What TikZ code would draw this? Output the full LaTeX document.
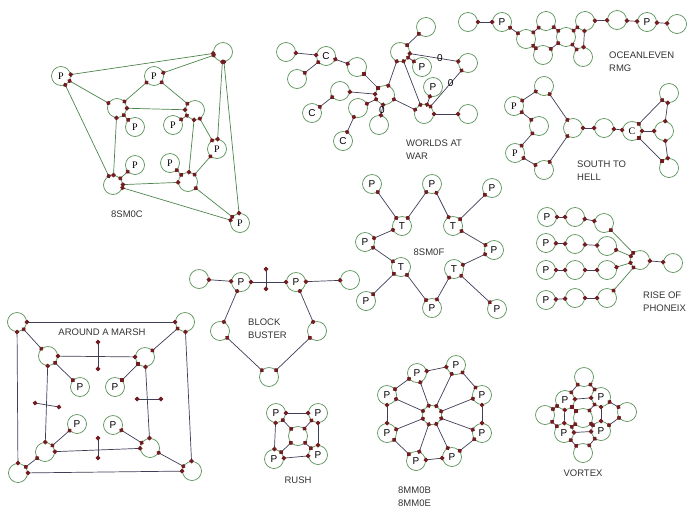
\documentclass[tikz,border=0pt]{standalone}
\usepackage{fontspec}
\setmainfont{Liberation Sans}
\newfontfamily\tmsfont{Liberation Serif}
\usetikzlibrary{arrows.meta}
\definecolor{ringgreen}{RGB}{88,146,88}
\definecolor{dotred}{RGB}{112,28,32}
\definecolor{wire}{RGB}{62,62,88}
\definecolor{wiregreen}{RGB}{76,134,76}

\begin{document}
\begin{tikzpicture}[x=1pt,y=-1pt,
  ring/.style={circle,draw=ringgreen,fill=white,line width=0.7pt,minimum size=19pt,inner sep=0pt,font=\fontsize{10}{10}\selectfont},
  tms/.style={ring,font=\tmsfont\fontsize{10}{10}\selectfont},
  wirelink/.style={draw=wire,line width=0.7pt,shorten <=-2.2pt,shorten >=-2.2pt,{Circle[length=4.6pt,color=dotred]}-{Circle[length=4.6pt,color=dotred]}},
  greenlink/.style={wirelink,draw=wiregreen},
  title/.style={font=\fontsize{9.5}{13}\selectfont,text=black!80,align=left,inner sep=0pt},
  zero/.style={font=\fontsize{10}{10}\selectfont,inner sep=0pt}]

  \useasboundingbox (0,0) rectangle (700,512);

  % 8SM0C
  \node[tms] (cp1) at (61,76) {P};
  \node[tms] (cp2) at (154,76) {P};
  \node[ring] (ctr) at (223,52) {};
  \node[ring] (ctl) at (117,108) {};
  \node[ring] (cir) at (195,110) {};
  \node[tms] (cq1) at (135,127) {P};
  \node[tms] (cq2) at (173,125) {P};
  \node[tms] (cq3) at (135,165) {P};
  \node[tms] (cq4) at (170,163) {P};
  \node[tms] (cpr) at (217,149) {P};
  \node[ring] (cbl) at (113,185) {};
  \node[ring] (cbr) at (188,182) {};
  \node[tms] (cpb) at (240,223) {P};
  \foreach \a/\b in {cp1/ctr, ctr/cp2, cp1/ctl, cp1/cbl, cp2/ctl, cp2/cir, ctl/cir, ctl/cq1, ctl/cbl,
    cir/cq2, cir/cbr, cir/cpr, ctr/cpr, ctr/cpb, cpr/cbr, cbr/cq4, cbl/cq3, cbl/cbr, cbl/cpb, cbr/cpb}
    \draw[greenlink] (\a) -- (\b);
  \node[title] (clab) at (127,214) {8SM0C};

  % worlds at war
  \node[ring] (wa) at (286,52) {};
  \node[ring] (wc1) at (326,56) {C};
  \node[ring] (wb) at (297,79) {};
  \node[ring] (wd) at (357,67) {};
  \node[ring] (we) at (340,91) {};
  \node[ring] (wc2) at (312,113) {C};
  \node[ring] (wf) at (358,108) {};
  \node[ring] (wc3) at (343,141) {C};
  \node[ring] (wh) at (385,95) {};
  \node[ring] (wg) at (379,125) {};
  \node[ring] (wt) at (400,52) {};
  \node[ring] (wi) at (426,27) {};
  \node[ring] (wj) at (468,63) {};
  \node[ring] (wp1) at (422,67) {P};
  \node[ring] (wp2) at (433,87) {P};
  \node[ring] (wk) at (424,114) {};
  \node[ring] (wl) at (468,114) {};
  \foreach \a/\b in {wa/wc1, wc1/wb, wc1/wd, wd/wh, we/wh, wc2/we, wf/wh, wf/wc3, wh/wt, wh/wk,
    wt/wi, wt/wp1, wt/wk, wp2/wk, wk/wl}
    \draw[wirelink] (\a) -- (\b);
  \draw[wirelink] (wg) -- node[zero,pos=.5] {0} (wh);
  \draw[wirelink] (wt) -- node[zero,pos=.62] {0} (wj);
  \draw[wirelink] (wj) -- node[zero,pos=.35] {0} (wk);
  \node[title,anchor=north west] (wlab) at (406,139.5) {WORLDS AT\\WAR};

  % oceanleven rmg
  \node[ring] (o1) at (468,22) {};
  \node[ring] (o2) at (502,22) {P};
  \node[ring] (o3) at (526,39) {};
  \node[ring] (o4) at (546,21) {};
  \node[ring] (o5) at (543,55) {};
  \node[ring] (o6) at (566,37) {};
  \node[ring] (o7) at (585,21) {};
  \node[ring] (o8) at (583,57) {};
  \node[ring] (o9) at (617,20) {};
  \node[ring] (o10) at (647,22) {P};
  \node[ring] (o11) at (677,24) {};
  \foreach \a/\b in {o1/o2, o2/o3, o3/o4, o3/o5, o4/o6, o5/o6, o6/o7, o6/o8, o7/o8, o7/o9, o9/o10, o10/o11}
    \draw[wirelink] (\a) -- (\b);
  \node[title,anchor=north west] (olab) at (609,51.5) {OCEANLEVEN\\RMG};

  % south to hell
  \node[ring] (s1) at (544,86) {};
  \node[tms] (sp1) at (514,106) {P};
  \node[ring] (s2) at (539,126) {};
  \node[tms] (sp2) at (515,153) {P};
  \node[ring] (s3) at (544,170) {};
  \node[ring] (s4) at (573,128) {};
  \node[ring] (s5) at (604,128) {};
  \node[tms] (sc) at (632,131) {C};
  \node[ring] (s6) at (669,93) {};
  \node[ring] (s7) at (664,131) {};
  \node[ring] (s8) at (669,168) {};
  \foreach \a/\b in {s1/sp1, sp1/s2, s2/sp2, sp2/s3, s1/s4, s3/s4, s4/s5, s5/sc, sc/s6, sc/s7, sc/s8, s6/s7, s7/s8}
    \draw[wirelink] (\a) -- (\b);
  \node[title,anchor=north west] (slab) at (577,160.5) {SOUTH TO\\HELL};

  % 8SM0F
  \node[ring] (fp1) at (372,184) {P};
  \node[ring] (fp2) at (432,184) {P};
  \node[ring] (fp3) at (492,188) {P};
  \node[ring] (ft1) at (402,226) {T};
  \node[ring] (ft2) at (453,226) {T};
  \node[ring] (fp4) at (365,242) {P};
  \node[ring] (fp5) at (494,250) {P};
  \node[ring] (ft3) at (401,267) {T};
  \node[ring] (ft4) at (454,269) {T};
  \node[ring] (fp6) at (366,301) {P};
  \node[ring] (fp7) at (432,308) {P};
  \node[ring] (fp8) at (497,309) {P};
  \foreach \a/\b in {fp1/ft1, fp2/ft1, fp2/ft2, fp3/ft2, ft1/fp4, fp4/ft3, ft2/fp5, fp5/ft4,
    ft3/fp6, ft3/fp7, ft4/fp7, ft4/fp8}
    \draw[wirelink] (\a) -- (\b);
  \node[title] (flab) at (429,252) {8SM0F};

  % rise of phoneix
  \node[ring] (php1) at (547,217) {P};
  \node[ring] (pha1) at (575,217) {};
  \node[ring] (phb1) at (604,223) {};
  \node[ring] (php2) at (546,243) {P};
  \node[ring] (pha2) at (575,244) {};
  \node[ring] (phb2) at (607,246) {};
  \node[ring] (php3) at (546,270) {P};
  \node[ring] (pha3) at (575,270) {};
  \node[ring] (phb3) at (607,270) {};
  \node[ring] (php4) at (546,300) {P};
  \node[ring] (pha4) at (575,298) {};
  \node[ring] (phb4) at (607,298) {};
  \node[ring] (phh) at (640,260) {};
  \node[ring] (pht) at (673,263) {};
  \foreach \i in {1,...,4} {
    \draw[wirelink] (php\i) -- (pha\i);
    \draw[wirelink] (pha\i) -- (phb\i);
    \draw[greenlink] (phb\i) -- (phh);
  }
  \draw[wirelink] (phh) -- (pht);
  \node[title,anchor=north west] (phlab) at (643,291.5) {RISE OF\\PHONEIX};

  % block buster
  \node[ring] (bl) at (199,279) {};
  \node[ring] (bp1) at (241,282) {P};
  \node[ring] (bp2) at (296,282) {P};
  \node[ring] (br) at (350,280) {};
  \node[ring] (bm1) at (220,331) {};
  \node[ring] (bm2) at (317,331) {};
  \node[ring] (bb) at (269,377) {};
  \coordinate (bx1) at (266,269);
  \coordinate (bx2) at (266,289);
  \foreach \a/\b in {bl/bp1, bp1/bp2, bp2/br, bp1/bm1, bp2/bm2, bm1/bb, bm2/bb, bx1/bx2}
    \draw[wirelink] (\a) -- (\b);
  \node[title,anchor=north west] (blab) at (248,318.5) {BLOCK\\BUSTER};

  % around a marsh
  \node[ring] (m1) at (17,322) {};
  \node[ring] (m2) at (185,322) {};
  \node[ring] (m3) at (48,356) {};
  \node[ring] (m4) at (145,357) {};
  \node[ring] (mp1) at (80,387) {P};
  \node[ring] (mp2) at (115,387) {P};
  \node[ring] (mp3) at (77,424) {P};
  \node[ring] (mp4) at (113,425) {P};
  \node[ring] (m5) at (45,452) {};
  \node[ring] (m6) at (150,448) {};
  \node[ring] (m7) at (18,473) {};
  \node[ring] (m8) at (192,471) {};
  \coordinate (mx1) at (98,342);
  \coordinate (mx2) at (98,369);
  \coordinate (mx3) at (35,403);
  \coordinate (mx4) at (59,407);
  \coordinate (mx5) at (137,399);
  \coordinate (mx6) at (161,399);
  \coordinate (mx7) at (98,438);
  \coordinate (mx8) at (98,458);
  \foreach \a/\b in {m1/m2, m1/m3, m2/m4, m1/m7, m2/m8, m3/m4, m3/mp1, m4/mp2, m3/m5, m4/m6,
    mp3/m5, mp4/m6, m5/m6, m5/m7, m6/m8, m7/m8, mx1/mx2, mx3/mx4, mx5/mx6, mx7/mx8}
    \draw[wirelink] (\a) -- (\b);
  \node[title] (mlab) at (102,332) {AROUND A MARSH};

  % rush
  \node[ring] (ru1) at (276,413) {P};
  \node[ring] (ru2) at (318,413) {P};
  \node[ring] (ruc) at (298,436) {};
  \node[ring] (ru3) at (274,459) {P};
  \node[ring] (ru4) at (318,455) {P};
  \foreach \a/\b in {ru1/ru2, ru1/ru3, ru2/ru4, ru3/ru4, ruc/ru1, ruc/ru2, ruc/ru3, ruc/ru4}
    \draw[wirelink] (\a) -- (\b);
  \node[title] (rulab) at (298,480) {RUSH};

  % 8MM0B / 8MM0E
  \node[ring] (eh) at (432,415) {};
  \node[ring] (ea) at (417,373) {P};
  \node[ring] (eb) at (456,365) {P};
  \node[ring] (ec) at (482,395) {P};
  \node[ring] (ed) at (482,433) {P};
  \node[ring] (ee) at (452,457) {P};
  \node[ring] (ef) at (416,461) {P};
  \node[ring] (eg) at (387,433) {P};
  \node[ring] (ei) at (387,395) {P};
  \foreach \a/\b in {ea/eb, eb/ec, ec/ed, ed/ee, ee/ef, ef/eg, eg/ei, ei/ea} {
    \draw[wirelink] (\a) -- (\b);
    \draw[wirelink] (eh) -- (\a);
  }
  \node[title,anchor=north west] (elab) at (398,486.5) {8MM0B\\8MM0E};

  % vortex
  \node[ring] (vt) at (584,377) {};
  \node[ring] (vl) at (545,415) {};
  \node[ring] (vr) at (627,412) {};
  \node[ring] (vb) at (583,453) {};
  \node[ring] (vc) at (583,418) {};
  \node[ring] (vp1) at (565,400) {P};
  \node[ring] (vp2) at (601,397) {P};
  \node[ring] (vp3) at (564,433) {P};
  \node[ring] (vp4) at (601,431) {P};
  \foreach \a/\b in {vp1/vp2, vp1/vp3, vp2/vp4, vp3/vp4, vt/vp1, vt/vp2, vl/vp1, vl/vp3, vr/vp2, vr/vp4,
    vb/vp3, vb/vp4, vc/vp1, vc/vp2, vc/vp3, vc/vp4}
    \draw[wirelink] (\a) -- (\b);
  \node[title] (vlab) at (583,473) {VORTEX};

\end{tikzpicture}
\end{document}
